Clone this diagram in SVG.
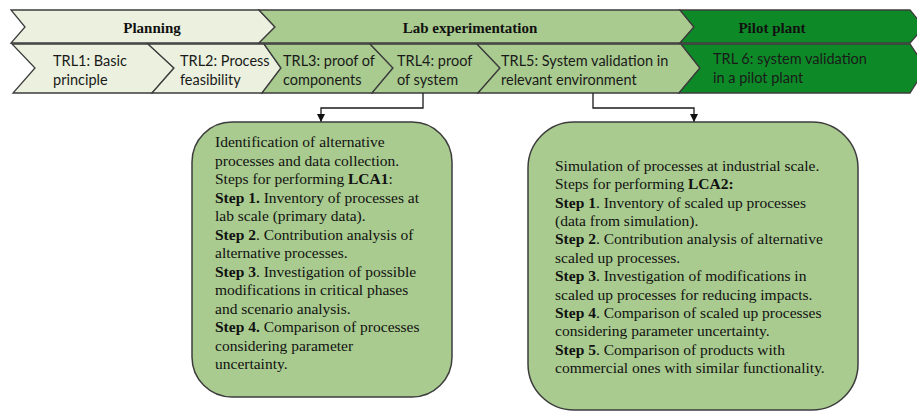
<svg xmlns="http://www.w3.org/2000/svg" width="917" height="412" viewBox="0 0 917 412">
  <defs>
    <style>
      .chev { stroke: #3c3c3c; stroke-width: 1.3; stroke-linejoin: miter; }
      .light { fill: #ebf1de; }
      .mid { fill: #a9cb8f; }
      .dark { fill: #0d8a27; }
      .phase { font-family: "Liberation Serif", "Times New Roman", serif; font-weight: bold; font-size: 15px; fill: #111; text-anchor: middle; }
      .trl { font-family: Lato, "Liberation Sans", sans-serif; font-size: 14.5px; fill: #1a1a1a; }
      .box { fill: #a9cb8f; stroke: #3c3c3c; stroke-width: 1.5; }
      .body { font-family: "Liberation Serif", "Times New Roman", serif; font-size: 15.5px; fill: #111; }
      .b { font-weight: bold; }
      .conn { fill: none; stroke: #1a1a1a; stroke-width: 1.3; }
    </style>
    <marker id="arrow" markerWidth="8" markerHeight="8" refX="8" refY="4" orient="auto" markerUnits="userSpaceOnUse">
      <path d="M0,0 L8,4 L0,8 Z" fill="#111"/>
    </marker>
  </defs>

  <rect width="917" height="412" fill="#ffffff"/>

  <!-- Phase chevrons (top row) -->
  <g id="phase-planning">
    <polygon class="chev light" points="11,10 259,10 275,27 259,43 11,43 25,27"/>
    <text class="phase" x="152" y="33">Planning</text>
  </g>
  <g id="phase-lab">
    <polygon class="chev mid" points="259,10 680,10 694,27 680,43 259,43 275,27"/>
    <text class="phase" x="470" y="33">Lab experimentation</text>
  </g>
  <g id="phase-pilot">
    <polygon class="chev dark" points="680,10 910,10 924,27 910,43 680,43 694,27"/>
    <text class="phase" x="772" y="33">Pilot plant</text>
  </g>

  <!-- TRL chevrons (second row) -->
  <g id="trl1">
    <polygon class="chev light" points="12,44 148,44 174,68 152,93 13,93 35,68"/>
    <text class="trl" x="53" y="66">TRL1: Basic</text>
    <text class="trl" x="53" y="85">principle</text>
  </g>
  <g id="trl2">
    <polygon class="chev light" points="148,44 264,44 281,68 262,93 152,93 174,68"/>
    <text class="trl" x="180" y="66">TRL2: Process</text>
    <text class="trl" x="180" y="85">feasibility</text>
  </g>
  <g id="trl3">
    <polygon class="chev mid" points="264,44 370,44 393,68 372,93 262,93 281,68"/>
    <text class="trl" x="283" y="66">TRL3: proof of</text>
    <text class="trl" x="283" y="85">components</text>
  </g>
  <g id="trl4">
    <polygon class="chev mid" points="370,44 477,44 500,68 478,93 372,93 393,68"/>
    <text class="trl" x="397" y="66">TRL4: proof</text>
    <text class="trl" x="397" y="85">of system</text>
  </g>
  <g id="trl5">
    <polygon class="chev mid" points="477,44 681,44 700,68 679,93 478,93 500,68"/>
    <text class="trl" x="501" y="66">TRL5: System validation in</text>
    <text class="trl" x="501" y="85">relevant environment</text>
  </g>
  <g id="trl6">
    <polygon class="chev dark" points="681,44 910,44 926,68 910,93 679,93 700,68"/>
    <text class="trl" x="713" y="64">TRL 6: system validation</text>
    <text class="trl" x="713" y="83">in a pilot plant</text>
  </g>

  <!-- Connectors -->
  <g id="connectors">
    <polyline class="conn" points="423,93 423,108 321,108 321,122" marker-end="url(#arrow)"/>
    <polyline class="conn" points="593,93 593,108 694,108 694,122" marker-end="url(#arrow)"/>
  </g>

  <!-- LCA1 box -->
  <g id="lca1">
    <rect class="box" x="192" y="122" width="260" height="275" rx="40" ry="40"/>
    <text class="body" x="215" y="147">Identification of alternative</text>
    <text class="body" x="215" y="165.5">processes and data collection.</text>
    <text class="body" x="215" y="184">Steps for performing <tspan class="b">LCA1</tspan>:</text>
    <text class="body" x="215" y="202.5"><tspan class="b">Step 1.</tspan> Inventory of processes at</text>
    <text class="body" x="215" y="221">lab scale (primary data).</text>
    <text class="body" x="215" y="239.5"><tspan class="b">Step 2</tspan>. Contribution analysis of</text>
    <text class="body" x="215" y="258">alternative processes.</text>
    <text class="body" x="215" y="276.5"><tspan class="b">Step 3</tspan>. Investigation of possible</text>
    <text class="body" x="215" y="295">modifications in critical phases</text>
    <text class="body" x="215" y="313.5">and scenario analysis.</text>
    <text class="body" x="215" y="332"><tspan class="b">Step 4.</tspan> Comparison of processes</text>
    <text class="body" x="215" y="350.5">considering parameter</text>
    <text class="body" x="215" y="369">uncertainty.</text>
  </g>

  <!-- LCA2 box -->
  <g id="lca2">
    <rect class="box" x="528" y="122" width="330" height="288" rx="46" ry="46"/>
    <text class="body" x="555" y="171">Simulation of processes at industrial scale.</text>
    <text class="body" x="555" y="189.4">Steps for performing <tspan class="b">LCA2:</tspan></text>
    <text class="body" x="555" y="207.7"><tspan class="b">Step 1</tspan>. Inventory of scaled up processes</text>
    <text class="body" x="555" y="226.1">(data from simulation).</text>
    <text class="body" x="555" y="244.4"><tspan class="b">Step 2</tspan>. Contribution analysis of alternative</text>
    <text class="body" x="555" y="262.8">scaled up processes.</text>
    <text class="body" x="555" y="281.2"><tspan class="b">Step 3</tspan>. Investigation of modifications in</text>
    <text class="body" x="555" y="299.5">scaled up processes for reducing impacts.</text>
    <text class="body" x="555" y="317.9"><tspan class="b">Step 4</tspan>. Comparison of scaled up processes</text>
    <text class="body" x="555" y="336.2">considering parameter uncertainty.</text>
    <text class="body" x="555" y="354.6"><tspan class="b">Step 5</tspan>. Comparison of products with</text>
    <text class="body" x="555" y="373">commercial ones with similar functionality.</text>
  </g>
</svg>
